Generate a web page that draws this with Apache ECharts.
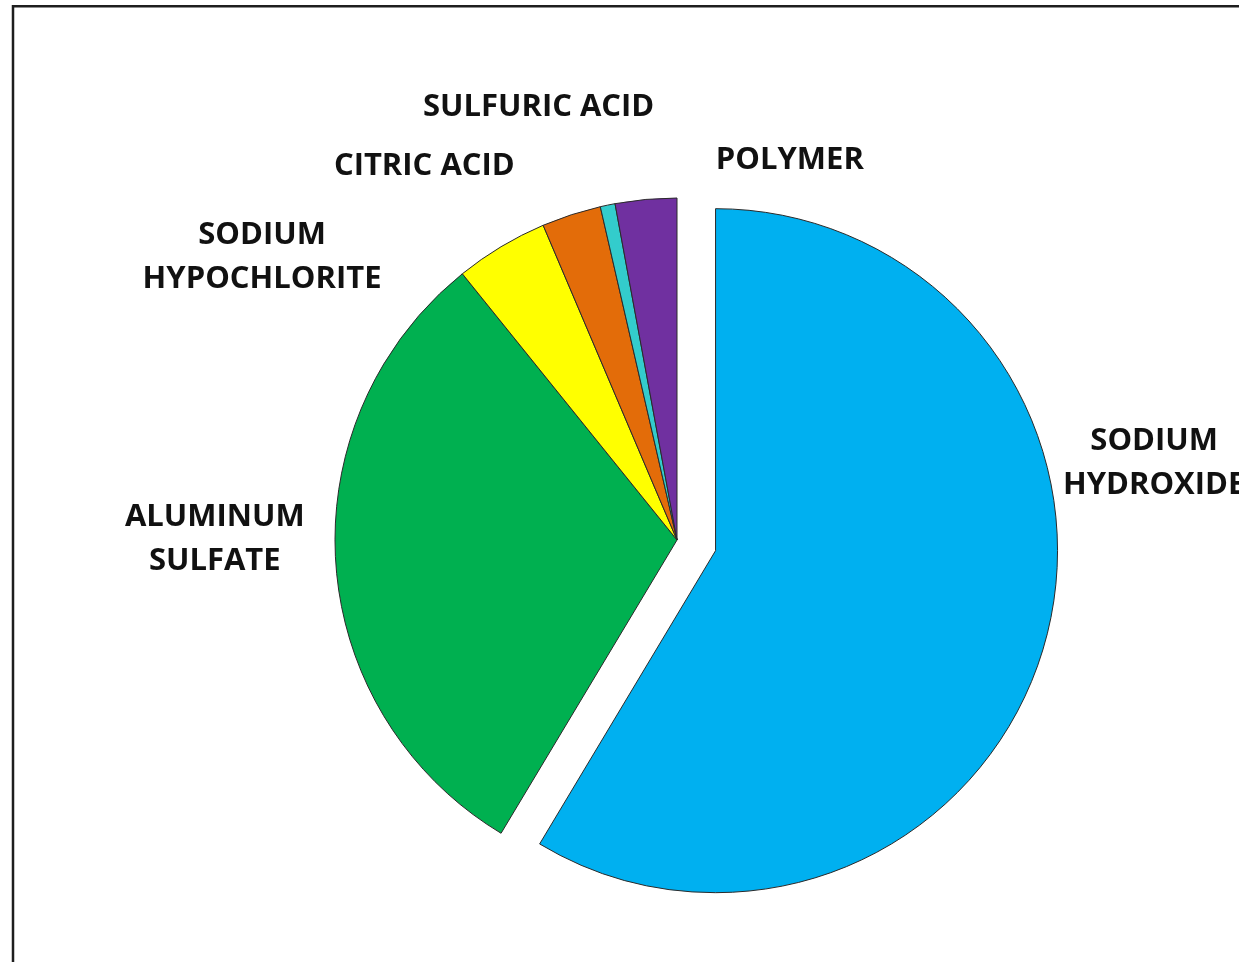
<!DOCTYPE html>
<html>
<head>
<meta charset="utf-8">
<script src="https://cdn.jsdelivr.net/npm/echarts@6/dist/echarts.min.js"></script>
<style>
  html, body { margin: 0; padding: 0; background: #fff; }
  #pic { width: 1239px; height: 962px; }
</style>
</head>
<body>
<div id="pic"></div>
<script>
// chart data
var names = ['SODIUM\nHYDROXIDE', 'ALUMINUM\nSULFATE', 'SODIUM\nHYPOCHLORITE', 'CITRIC ACID', 'SULFURIC ACID', 'POLYMER'];
var values = [58.6, 30.6, 4.4, 2.8, 0.7, 2.9];
var colors = ['#00B0F0', '#00B050', '#FFFF00', '#E36C09', '#33CCCC', '#7030A0'];

// label nudges from the default outside anchor (style only)
var labelShift = [[109, -179], [-121, -24], [-239, 10], [-147, -49], [-69, -98], [144, -39]];

var chart = echarts.init(document.getElementById('pic'));

var pieData = [];
for (var i = 0; i < values.length; i++) {
  pieData.push({
    name: names[i],
    value: values[i],
    selected: i === 0,
    itemStyle: { color: colors[i] }
  });
}

var option = {
  backgroundColor: '#fff',
  animation: false,
  graphic: [{
    type: 'rect',
    shape: { x: 13, y: 6.3, width: 1400, height: 1100 },
    style: { fill: 'none', stroke: '#1e1e1e', lineWidth: 2.5 },
    silent: true
  }],
  series: [{
    type: 'pie',
    center: [677, 540],
    radius: 342,
    startAngle: 90,
    clockwise: true,
    selectedMode: 'single',
    selectedOffset: 40,
    avoidLabelOverlap: false,
    itemStyle: { borderColor: '#2a2a2a', borderWidth: 1 },
    select: { itemStyle: { borderColor: '#2a2a2a', borderWidth: 1 } },
    label: {
      show: true,
      position: 'outside',
      distanceToLabelLine: 0,
      color: '#111',
      fontFamily: 'Open Sans',
      fontWeight: 'bold',
      fontSize: 31,
      lineHeight: 44,
      align: 'center'
    },
    labelLine: { show: false, length: 0, length2: 0 },
    labelLayout: function (params) {
      var s = labelShift[params.dataIndex];
      return { dx: s[0], dy: s[1], align: 'center', verticalAlign: 'middle' };
    },
    emphasis: { disabled: true },
    data: pieData
  }]
};
chart.setOption(option);
</script>
</body>
</html>
